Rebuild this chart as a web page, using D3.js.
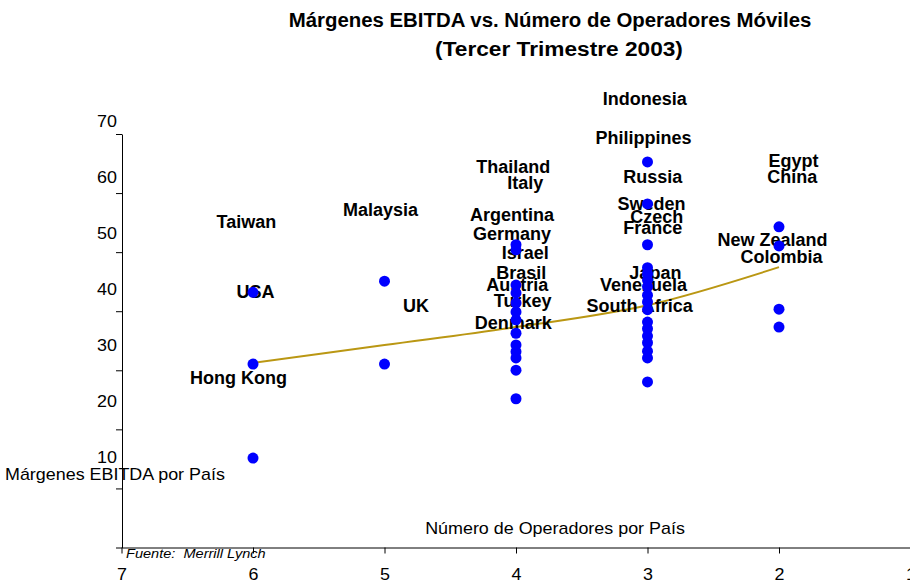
<!DOCTYPE html>
<html>
<head>
<meta charset="utf-8">
<script src="https://cdn.jsdelivr.net/npm/d3@7/dist/d3.min.js"></script>
<style>
	body { margin: 0; background: #fff; }
	svg text { font-family: Arial, 'Liberation Sans', sans-serif; fill: #000; }
</style>
</head>
<body>
<div class="scatter_chart"></div>
<script>
	// 점 데이터: 운영사 수 / EBITDA 마진
	const operators = [6, 6, 6, 5, 5,
		4, 4, 4, 4, 4, 4, 4, 4, 4, 4, 4, 4, 4,
		3, 3, 3, 3, 3, 3, 3, 3, 3, 3, 3, 3, 3, 3, 3, 3, 3,
		2, 2, 2, 2];
	const margins = [39.4, 26.6, 9.8, 41.4, 26.6,
		47.9, 47.0, 40.7, 39.3, 37.5, 35.9, 34.5, 32.1, 30.0, 28.8, 27.7, 25.5, 20.4,
		62.7, 55.2, 47.9, 43.8, 42.7, 41.6, 40.4, 38.9, 37.7, 36.3, 34.1, 32.9, 31.6, 30.4, 28.9, 27.7, 23.4,
		51.1, 47.7, 36.4, 33.2];

	// 추세선
	const trendOperators = [6, 5, 4, 3, 2];
	const trendMargins = [26.8, 30.0, 33.2, 37.1, 43.9];

	// 국가 라벨 (데이터 좌표)
	const countries = ['Indonesia', 'Philippines', 'Thailand', 'Italy', 'Russia', 'Egypt', 'China', 'Taiwan', 'Malaysia',
		'Argentina', 'Sweden', 'Czech', 'France', 'Germany', 'New Zealand', 'Israel', 'Colombia', 'Brasil', 'Japan',
		'Austria', 'Venezuela', 'USA', 'Turkey', 'UK', 'South Africa', 'Denmark', 'Hong Kong'];
	const countryOperators = [3.02, 3.03, 4.02, 3.93, 2.96, 1.89, 1.90, 6.05, 5.03,
		4.03, 2.97, 2.93, 2.96, 4.03, 2.05, 3.93, 1.98, 3.96, 2.94,
		3.99, 3.03, 5.98, 3.95, 4.76, 3.06, 4.02, 6.11];
	const countryMargins = [73.9, 67.0, 61.8, 58.9, 60.0, 63.0, 60.0, 52.0, 54.1,
		53.2, 55.2, 52.9, 50.9, 49.8, 48.8, 46.4, 45.7, 42.9, 43.0,
		40.7, 40.7, 39.6, 38.0, 37.0, 37.1, 33.9, 24.1];

	const xTicks = [7, 6, 5, 4, 3, 2, 1];
	const yTicks = [0, 10, 20, 30, 40, 50, 60, 70];
	const yLabels = [10, 20, 30, 40, 50, 60, 70];

	const width = 910;
	const height = 582;
	const stretch = 1.12;

	const svg = d3.select('.scatter_chart').append('svg').attr('width', width).attr('height', height);

	const x = d3.scaleLinear().domain([7, 1]).range([121.5, 910.5]);
	const yTick = d3.scaleLinear().domain([0, 70]).range([547.5, 134]);
	const y = d3.scaleLinear().domain([0, 70]).range([513, 121]);

	// 제목
	svg.append('text')
		.attr('transform', 'translate(550,27) scale(1.02,1)')
		.attr('text-anchor', 'middle')
		.style('font-size', '20px')
		.style('font-weight', 'bold')
		.text('Márgenes EBITDA vs. Número de Operadores Móviles');
	svg.append('text')
		.attr('transform', 'translate(559,56) scale(1.08,1)')
		.attr('text-anchor', 'middle')
		.style('font-size', '21px')
		.style('font-weight', 'bold')
		.text('(Tercer Trimestre 2003)');

	// 축
	const xAxis = svg.append('g')
		.attr('transform', 'translate(0,547.5)')
		.call(d3.axisBottom(x).tickValues(xTicks).tickFormat(d3.format('d')).tickSize(6).tickSizeOuter(0).tickPadding(15));
	xAxis.selectAll('text').style('font-size', '16px').attr('transform', `scale(${stretch},1)`);
	xAxis.select('.domain').attr('stroke', '#000');

	const yAxis = svg.append('g')
		.attr('transform', 'translate(122,0)')
		.call(d3.axisLeft(yTick).tickValues(yTicks).tickFormat('').tickSize(6).tickSizeOuter(0));
	yAxis.select('.domain').attr('stroke', '#000');

	svg.append('g')
		.selectAll('text')
		.data(yLabels)
		.enter()
		.append('text')
		.attr('transform', d => `translate(117,${y(d)}) scale(${stretch},1)`)
		.attr('text-anchor', 'end')
		.attr('dy', '0.35em')
		.style('font-size', '16px')
		.text(d => d);

	// 축 제목
	svg.append('text')
		.attr('transform', `translate(5,474) scale(${stretch},1)`)
		.attr('dy', '0.35em')
		.style('font-size', '16px')
		.text('Márgenes EBITDA por País');
	svg.append('text')
		.attr('transform', `translate(555,528) scale(${stretch},1)`)
		.attr('text-anchor', 'middle')
		.attr('dy', '0.35em')
		.style('font-size', '16px')
		.text('Número de Operadores por País');
	svg.append('text')
		.attr('transform', `translate(126,553) scale(${stretch},1)`)
		.attr('dy', '0.35em')
		.style('font-size', '13px')
		.style('font-style', 'italic')
		.style('white-space', 'pre')
		.text('Fuente:  Merrill Lynch');

	// 추세선
	const line = d3.line().x(i => x(trendOperators[i])).y(i => y(trendMargins[i])).curve(d3.curveMonotoneX);
	svg.append('path')
		.attr('d', line(d3.range(trendOperators.length)))
		.attr('fill', 'none')
		.attr('stroke', '#BA9713')
		.attr('stroke-width', 2);

	// 국가 라벨
	svg.append('g')
		.selectAll('text')
		.data(countries)
		.enter()
		.append('text')
		.attr('x', (d, i) => x(countryOperators[i]))
		.attr('y', (d, i) => y(countryMargins[i]))
		.attr('dy', '0.35em')
		.attr('text-anchor', 'middle')
		.style('font-size', '18px')
		.style('font-weight', 'bold')
		.text(d => d);

	// 점
	svg.append('g')
		.selectAll('circle')
		.data(operators)
		.enter()
		.append('circle')
		.attr('cx', d => x(d))
		.attr('cy', (d, i) => y(margins[i]))
		.attr('r', 5.5)
		.attr('fill', '#0000FF');
</script>
</body>
</html>
